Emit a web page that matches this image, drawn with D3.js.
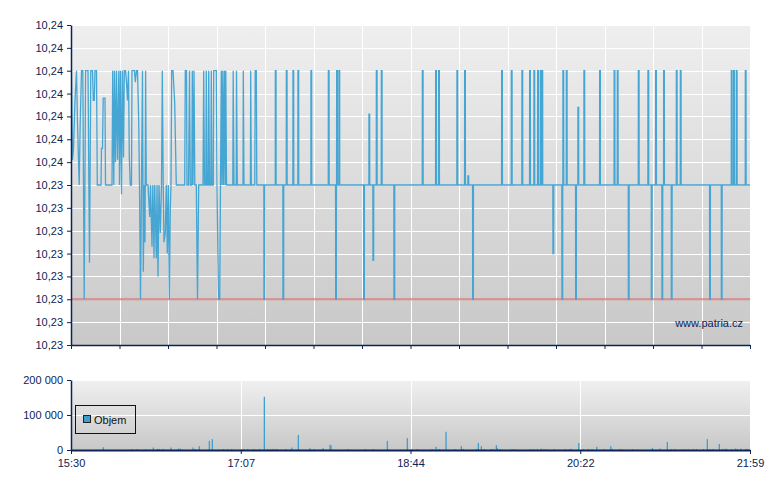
<!DOCTYPE html>
<html><head><meta charset="utf-8">
<script src="https://cdn.jsdelivr.net/npm/d3@7"></script>
<style>html,body{margin:0;padding:0;background:#fff;} svg{display:block;font-family:"Liberation Sans",Arial,sans-serif;}</style>
</head><body><svg id="chart" width="780" height="490"></svg>
<script>
// ---- DATA ----
// price ticks: [minutes since 15:30, price]
const priceTicks = [
[0.00,10.2300],[0.23,10.2400],[0.86,10.2361],[1.43,10.2366],[2.29,10.2387],[3.15,10.2400],[3.72,10.2377],[4.30,10.2361],[4.70,10.2350],[5.27,10.2377],[6.02,10.2400],[6.76,10.2400],[7.56,10.2300],[8.36,10.2400],[9.74,10.2400],[10.60,10.2316],[11.34,10.2400],[12.32,10.2400],[12.78,10.2387],[13.35,10.2387],[13.75,10.2400],[14.61,10.2400],[15.07,10.2350],[17.19,10.2350],[17.47,10.2366],[18.05,10.2366],[18.45,10.2388],[19.48,10.2388],[19.77,10.2350],[23.49,10.2350],
[23.89,10.2400],[24.52,10.2350],[24.92,10.2400],[25.49,10.2360],[26.07,10.2400],[26.64,10.2361],[27.39,10.2400],[27.79,10.2350],[28.36,10.2400],[28.93,10.2346],[29.50,10.2400],[30.08,10.2362],[30.54,10.2400],[31.22,10.2400],[31.80,10.2395],[32.37,10.2387],[32.94,10.2400],[33.40,10.2362],[33.97,10.2350],[34.66,10.2350],[34.95,10.2400],[36.38,10.2400],[36.84,10.2395],[37.52,10.2400],[38.10,10.2400],[38.79,10.2378],[39.24,10.2350],[39.82,10.2300],[40.39,10.2350],[40.96,10.2400],[41.42,10.2312],[41.99,10.2350],[42.39,10.2325],[42.74,10.2400],[43.14,10.2350],[44.11,10.2350],[45.09,10.2336],[45.55,10.2350],[46.40,10.2323],[46.86,10.2350],[47.55,10.2318],[47.95,10.2350],[48.87,10.2318],[49.27,10.2350],[49.84,10.2310],[50.42,10.2350],[51.16,10.2329],[51.85,10.2350],[52.31,10.2400],[52.82,10.2350],[53.28,10.2325],[54.02,10.2329],[54.60,10.2350],[55.17,10.2320],[55.74,10.2350],[56.32,10.2300],[56.89,10.2340],[57.29,10.2350],[57.69,10.2400],[58.44,10.2400],[59.41,10.2386],[60.33,10.2350],[65.14,10.2350],
[65.48,10.2400],[66.17,10.2400],[66.46,10.2350],[67.32,10.2350],[67.89,10.2400],[68.35,10.2350],[69.21,10.2350],[69.49,10.2400],[69.89,10.2350],[70.47,10.2400],[70.93,10.2350],[71.78,10.2350],[72.47,10.2300],[73.16,10.2350],[75.62,10.2350],[76.02,10.2400],[76.48,10.2350],[77.23,10.2350],[77.51,10.2400],[77.91,10.2350],[78.60,10.2350],[78.89,10.2400],[79.35,10.2350],[80.09,10.2350],[80.38,10.2400],[80.78,10.2350],[81.52,10.2350],[81.75,10.2400],[83.24,10.2400],[83.64,10.2350],[84.50,10.2300],[85.19,10.2300],[85.65,10.2350],[86.11,10.2400],[86.51,10.2350],[86.97,10.2400],[87.37,10.2350],[87.94,10.2400],[88.34,10.2350],[88.68,10.2400],[89.09,10.2350],[92.70,10.2350],[92.92,10.2400],[93.38,10.2350],[94.64,10.2350],[94.81,10.2400],[95.27,10.2350],[98.54,10.2350],[98.71,10.2400],[99.11,10.2350],[102.78,10.2350],[102.95,10.2400],[103.29,10.2350],[105.30,10.2350],[105.53,10.2400],[106.16,10.2400],[106.45,10.2350],
[110.49,10.2350],[110.54,10.2300],[110.94,10.2300],[110.99,10.2350],
[117.02,10.2350],[117.07,10.2400],[117.47,10.2400],[117.52,10.2350],
[121.38,10.2350],[121.43,10.2300],[121.83,10.2300],[121.88,10.2350],
[123.32,10.2350],[123.37,10.2400],[123.77,10.2400],[123.82,10.2350],
[127.11,10.2350],[127.16,10.2400],[127.56,10.2400],[127.61,10.2350],
[129.97,10.2350],[130.02,10.2400],[130.42,10.2400],[130.47,10.2350],
[137.42,10.2350],[137.47,10.2400],[137.87,10.2400],[137.92,10.2350],
[147.39,10.2350],[147.44,10.2400],[147.84,10.2400],[147.89,10.2350],
[151.57,10.2350],[151.62,10.2300],[152.02,10.2300],[152.07,10.2350],
[152.14,10.2350],[152.19,10.2400],[152.59,10.2400],[152.64,10.2350],
[153.46,10.2350],[153.51,10.2400],[153.91,10.2400],[153.96,10.2350],
[167.61,10.2350],[167.66,10.2300],[168.06,10.2300],[168.11,10.2350],
[170.65,10.2350],[170.70,10.2381],[171.10,10.2381],[171.15,10.2350],
[172.94,10.2350],[172.99,10.2317],[173.39,10.2317],[173.44,10.2350],
[174.89,10.2350],[174.94,10.2400],[175.34,10.2400],[175.39,10.2350],
[177.75,10.2350],[177.80,10.2400],[178.20,10.2400],[178.25,10.2350],
[184.97,10.2350],[185.02,10.2300],[185.42,10.2300],[185.47,10.2350],
[201.24,10.2350],[201.29,10.2400],[201.69,10.2400],[201.74,10.2350],
[208.86,10.2350],[208.91,10.2400],[209.31,10.2400],[209.36,10.2350],
[210.58,10.2350],[210.63,10.2400],[211.03,10.2400],[211.08,10.2350],
[221.06,10.2350],[221.11,10.2400],[221.51,10.2400],[221.56,10.2350],
[225.47,10.2350],[225.52,10.2400],[225.92,10.2400],[225.97,10.2350],
[227.36,10.2350],[227.41,10.2354],[227.81,10.2354],[227.86,10.2350],
[230.06,10.2350],[230.11,10.2300],[230.51,10.2300],[230.56,10.2350],
[246.67,10.2350],[246.72,10.2400],[247.12,10.2400],[247.17,10.2350],
[252.23,10.2350],[252.28,10.2400],[252.68,10.2400],[252.73,10.2350],
[258.30,10.2350],[258.35,10.2400],[258.75,10.2400],[258.80,10.2350],
[262.71,10.2350],[262.76,10.2400],[263.16,10.2400],[263.21,10.2350],
[265.17,10.2350],[265.22,10.2400],[265.62,10.2400],[265.67,10.2350],
[267.29,10.2350],[267.34,10.2400],[267.74,10.2400],[267.79,10.2350],
[268.84,10.2350],[268.89,10.2400],[269.29,10.2400],[269.34,10.2350],
[269.76,10.2350],[269.81,10.2400],[270.21,10.2400],[270.26,10.2350],
[276.06,10.2350],[276.11,10.2320],[276.51,10.2320],[276.56,10.2350],
[281.21,10.2350],[281.26,10.2300],[281.66,10.2300],[281.71,10.2350],
[281.79,10.2350],[281.84,10.2400],[282.24,10.2400],[282.29,10.2350],
[283.74,10.2350],[283.79,10.2400],[284.19,10.2400],[284.24,10.2350],
[289.06,10.2350],[289.11,10.2300],[289.51,10.2300],[289.56,10.2350],
[290.38,10.2350],[290.43,10.2384],[290.83,10.2384],[290.88,10.2350],
[293.82,10.2350],[293.87,10.2400],[294.27,10.2400],[294.32,10.2350],
[302.81,10.2350],[302.86,10.2400],[303.26,10.2400],[303.31,10.2350],
[311.12,10.2350],[311.17,10.2400],[311.57,10.2400],[311.62,10.2350],
[312.95,10.2350],[313.00,10.2400],[313.40,10.2400],[313.45,10.2350],
[319.26,10.2350],[319.31,10.2300],[319.71,10.2300],[319.76,10.2350],
[324.99,10.2350],[325.04,10.2400],[325.44,10.2400],[325.49,10.2350],
[330.49,10.2350],[330.54,10.2400],[330.94,10.2400],[330.99,10.2350],
[332.43,10.2350],[332.48,10.2300],[332.88,10.2300],[332.93,10.2350],
[334.90,10.2350],[334.95,10.2400],[335.35,10.2400],[335.40,10.2350],
[338.51,10.2350],[338.56,10.2300],[338.96,10.2300],[339.01,10.2350],
[339.48,10.2350],[339.53,10.2400],[339.93,10.2400],[339.98,10.2350],
[343.89,10.2350],[343.94,10.2300],[344.34,10.2300],[344.39,10.2350],
[346.76,10.2350],[346.81,10.2400],[347.21,10.2400],[347.26,10.2350],
[349.05,10.2350],[349.10,10.2400],[349.50,10.2400],[349.55,10.2350],
[365.83,10.2350],[365.88,10.2300],[366.28,10.2300],[366.33,10.2350],
[372.54,10.2350],[372.59,10.2300],[372.99,10.2300],[373.04,10.2350],
[378.26,10.2350],[378.31,10.2400],[378.71,10.2400],[378.76,10.2350],
[379.58,10.2350],[379.63,10.2400],[380.03,10.2400],[380.08,10.2350],
[381.13,10.2350],[381.18,10.2400],[381.58,10.2400],[381.63,10.2350],
[386.28,10.2350],[386.33,10.2400],[386.73,10.2400],[386.78,10.2350],
[389.00,10.2350]
];
// volume: [minutes since 15:30, shares]
const volumeBars = [
[18.50,7700],[34.78,2500],[37.98,2500],[42.80,2500],[47.15,7000],[49.44,3000],[50.59,3000],[52.88,3000],[57.29,7000],[61.47,4000],[62.62,4000],[69.89,7000],[71.04,2500],[73.50,11000],[79.23,26000],[80.95,31000],[87.25,2500],[89.77,2500],[92.07,2500],[97.97,2500],[99.11,2500],[101.12,2500],[104.84,2500],[107.99,3000],[110.74,152000],[112.57,2500],[114.29,2500],[115.73,3000],[117.27,3000],[118.02,2500],[123.17,2500],[126.44,7000],[130.22,43000],[136.92,5000],[139.21,2500],[143.80,3000],[144.54,5000],[148.38,15000],[148.95,13000],[158.87,2500],[168.43,2500],[173.19,2500],[181.21,26000],[192.67,34000],[195.36,2500],[198.40,2500],[206.82,2500],[209.11,9000],[211.00,2500],[214.84,52000],[219.99,2500],[223.60,11000],[224.75,3000],[232.43,3000],[233.34,20000],[235.06,11000],[236.78,2500],[240.62,3000],[241.76,3000],[243.65,14000],[244.22,6000],[245.77,2500],[252.65,2500],[254.37,2500],[262.96,2500],[264.68,2500],[267.14,2500],[269.43,4000],[270.98,2500],[272.70,2500],[276.71,2500],[283.01,2500],[285.88,3000],[286.62,3000],[290.86,20000],[293.50,2500],[296.19,2500],[298.48,2500],[301.17,9000],[305.36,2500],[309.19,11000],[310.11,3000],[314.12,2500],[315.50,2500],[321.57,2500],[333.03,6000],[337.44,4000],[341.62,23000],[344.14,3000],[346.03,3000],[349.87,2500],[351.76,2500],[353.65,2500],[356.34,3000],[358.24,2500],[362.24,2500],[364.54,31000],[366.08,2500],[367.97,3000],[371.41,17000],[372.96,3000],[374.68,4000],[375.82,3000],[378.51,2500],[380.58,4000],[381.55,3000],[383.67,4000],[386.71,3000],[387.86,3000]
];
const sessionMinutes = 389;            // 15:30 -> 21:59
const referencePrice = 10.23;
const yTickValues = [10.242,10.241,10.240,10.239,10.238,10.237,10.236,10.235,10.234,10.233,10.232,10.231,10.230,10.229,10.228];
const yTickLabels = ["10,24","10,24","10,24","10,24","10,24","10,24","10,24","10,23","10,23","10,23","10,23","10,23","10,23","10,23","10,23"];
const xTickValues = [0, 97.25, 194.5, 291.75, 389];
const xTickLabels = ["15:30","17:07","18:44","20:22","21:59"];
const mainGridCount = 14;
const volTickValues = [0,100000,200000];
const volTickLabels = ["0","100 000","200 000"];
const legendLabel = "Objem";
const watermark = "www.patria.cz";

// ---- DRAW ----
const navy = "#0c2356", blue = "#45a5d3";
const svg = d3.select("#chart");
const L = 71, R = 750;
const x = d3.scaleLinear().domain([0, sessionMinutes]).range([L, R]);
const y = d3.scaleLinear().domain([10.228, 10.242]).range([345, 25]);
const yv = d3.scaleLinear().domain([0, 200000]).range([450, 380]);

const defs = svg.append("defs");
function grad(id, c1, c2){
  const g = defs.append("linearGradient").attr("id", id).attr("x1",0).attr("y1",0).attr("x2",0).attr("y2",1);
  g.append("stop").attr("offset","0%").attr("stop-color",c1);
  g.append("stop").attr("offset","100%").attr("stop-color",c2);
}
grad("gMain", "#efefef", "#c8c8c8");
grad("gVol", "#f0f0f0", "#c8c8c8");
defs.append("clipPath").attr("id","clipMain").append("rect")
  .attr("x", L).attr("y", y.range()[1]).attr("width", R-L).attr("height", y.range()[0]-y.range()[1]);

// main background
svg.append("rect").attr("x", L).attr("y", y.range()[1]).attr("width", R-L).attr("height", y.range()[0]-y.range()[1]).attr("fill","url(#gMain)");
// volume background
svg.append("rect").attr("x", L).attr("y", yv.range()[1]).attr("width", R-L).attr("height", yv.range()[0]-yv.range()[1]).attr("fill","url(#gVol)");

// main grid
const mainGridX = d3.range(mainGridCount + 1).map(i => i * sessionMinutes / mainGridCount);
const gm = svg.append("g");
gm.selectAll("line.h").data(yTickValues).join("line")
  .attr("x1", L).attr("x2", R).attr("y1", d => Math.round(y(d))+0.5).attr("y2", d => Math.round(y(d))+0.5)
  .attr("stroke","#fff").attr("stroke-width",1);
gm.selectAll("line.v").data(mainGridX.slice(1)).join("line")
  .attr("x1", d => Math.round(x(d))+0.5).attr("x2", d => Math.round(x(d))+0.5)
  .attr("y1", y.range()[1]).attr("y2", y.range()[0])
  .attr("stroke","#fff").attr("stroke-width",1);

// volume grid
const gv = svg.append("g");
gv.selectAll("line.h").data(volTickValues.slice(1)).join("line")
  .attr("x1", L).attr("x2", R).attr("y1", d => Math.round(yv(d))+0.5).attr("y2", d => Math.round(yv(d))+0.5)
  .attr("stroke","#fff").attr("stroke-width",1);
gv.selectAll("line.v").data(xTickValues.slice(1)).join("line")
  .attr("x1", d => Math.round(x(d))+0.5).attr("x2", d => Math.round(x(d))+0.5)
  .attr("y1", yv.range()[1]).attr("y2", yv.range()[0])
  .attr("stroke","#fff").attr("stroke-width",1);

// reference line
svg.append("line").attr("x1", L).attr("x2", R).attr("y1", y(referencePrice)).attr("y2", y(referencePrice))
  .attr("stroke","#d86a6a").attr("stroke-opacity",0.75).attr("stroke-width",2);

// price line
svg.append("path").datum(priceTicks).attr("clip-path","url(#clipMain)")
  .attr("fill","none").attr("stroke", blue).attr("stroke-width",1.3).attr("stroke-linejoin","miter")
  .attr("d", d3.line().x(d => x(d[0])).y(d => y(d[1])));

// watermark
svg.append("text").attr("x", 743).attr("y", 327).attr("text-anchor","end")
  .attr("font-size", 11).attr("fill", navy).text(watermark);

// volume bars
svg.append("g").selectAll("rect").data(volumeBars).join("rect")
  .attr("x", d => x(d[0]) - 0.6).attr("width", 1.3)
  .attr("y", d => yv(d[1])).attr("height", d => yv(0) - yv(d[1]))
  .attr("fill", "#3d9fd0");

// axes
function styleAxis(g){
  g.selectAll("path.domain").attr("stroke", navy).attr("stroke-width", 1.5);
  g.selectAll(".tick line").attr("stroke", navy).attr("stroke-width", 1);
  g.selectAll("text").attr("fill", navy).attr("font-size", 11).attr("font-family", '"Liberation Sans", Arial, sans-serif');
}
const yAx = svg.append("g").attr("transform", `translate(${L},0)`)
  .call(d3.axisLeft(y).tickValues(yTickValues).tickFormat((d,i) => yTickLabels[i]).tickSize(4).tickSizeOuter(0).tickPadding(4));
styleAxis(yAx);
const xAxMain = svg.append("g").attr("transform", `translate(0,${y.range()[0]})`)
  .call(d3.axisBottom(x).tickValues(mainGridX).tickFormat("").tickSize(4).tickSizeOuter(0));
styleAxis(xAxMain);
const yvAx = svg.append("g").attr("transform", `translate(${L},0)`)
  .call(d3.axisLeft(yv).tickValues(volTickValues).tickFormat((d,i) => volTickLabels[i]).tickSize(4).tickSizeOuter(0).tickPadding(4));
styleAxis(yvAx);
const xvAx = svg.append("g").attr("transform", `translate(0,${yv.range()[0]})`)
  .call(d3.axisBottom(x).tickValues(xTickValues).tickFormat((d,i) => xTickLabels[i]).tickSize(4).tickSizeOuter(0).tickPadding(5));
styleAxis(xvAx);
xvAx.select("path.domain").attr("stroke-width", 2);

// legend
const lg = svg.append("g");
lg.append("rect").attr("x", 75.5).attr("y", 405.5).attr("width", 60).attr("height", 28)
  .attr("fill","none").attr("stroke","#111").attr("stroke-width",1);
lg.append("rect").attr("x", 83.5).attr("y", 415.5).attr("width", 7).attr("height", 7)
  .attr("fill","#3d9fd0").attr("stroke","#222").attr("stroke-width",1);
lg.append("text").attr("x", 94).attr("y", 424).attr("font-size", 11).attr("fill","#111").text(legendLabel);
</script></body></html>
